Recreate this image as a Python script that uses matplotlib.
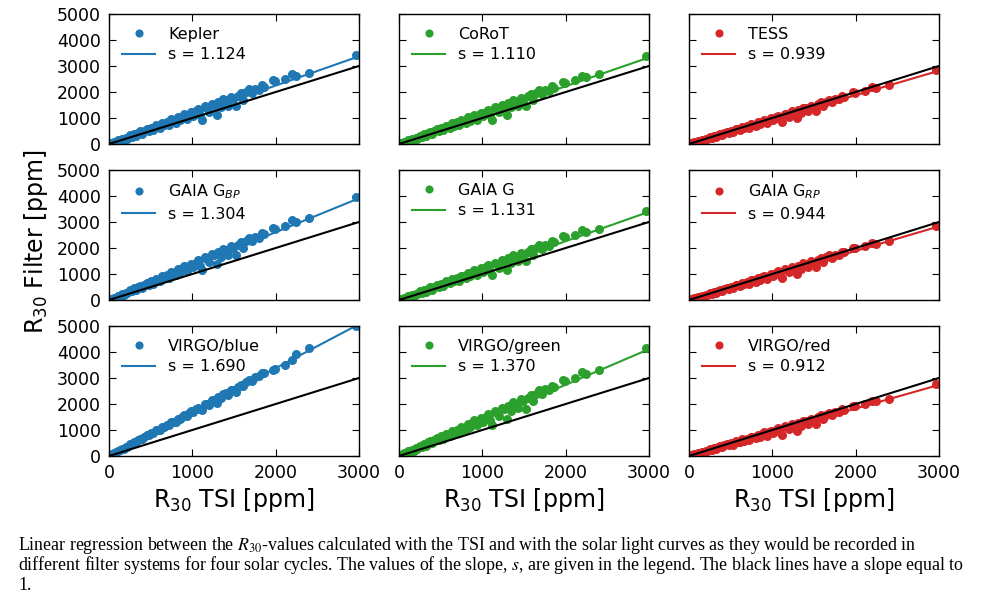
import matplotlib.pyplot as plt
import numpy as np

OUTPUT_PLOT_PATH = "out.png"

# R30 of the TSI (shared x values of all panels), ppm
TSI_R30 = [15, 40, 60, 85, 105, 130, 150, 175, 200, 220, 250, 270, 300, 325, 350,
           375, 400, 425, 450, 480, 505, 530, 560, 585, 610, 640, 665, 690, 720, 745,
           770, 800, 825, 850, 880, 905, 930, 960, 985, 1010, 1040, 1065, 1090, 1120,
           1150, 1175, 1200, 1230, 1260, 1290, 1310, 1340, 1370, 1400, 1430, 1460,
           1490, 1520, 1550, 1580, 1610, 1640, 1680, 1710, 1750, 1800, 1840, 1860,
           1970, 1990, 2110, 2200, 2240, 2400, 2960]

# R30 of the filter light curves, ppm
KEPLER = [27, 35, 87, 76, 148, 131, 209, 167, 250, 207, 331, 283, 397, 315, 433,
          492, 390, 508, 586, 500, 628, 526, 719, 678, 626, 819, 717, 846, 719, 947,
          905, 819, 1047, 905, 1049, 1157, 945, 1129, 1237, 1065, 1259, 1357, 1115, 919,
          1443, 1381, 1229, 1553, 1496, 1100, 1612, 1416, 1730, 1674, 1477, 1821,
          1735, 1448, 1862, 1976, 1710, 1993, 2108, 1952, 2127, 2083, 2258, 2211,
          2454, 2407, 2492, 2683, 2608, 2728, 3427]
COROT = [26, 35, 85, 76, 144, 131, 203, 167, 245, 208, 323, 282, 387, 316, 425,
         479, 390, 499, 572, 497, 615, 525, 703, 667, 623, 800, 711, 829, 718, 926,
         891, 816, 1024, 899, 1031, 1131, 942, 1111, 1210, 1058, 1235, 1326, 1111, 937,
         1412, 1358, 1224, 1518, 1471, 1117, 1580, 1406, 1692, 1644, 1470, 1783,
         1708, 1453, 1829, 1934, 1697, 1955, 2063, 1925, 2087, 2052, 2213, 2173,
         2403, 2362, 2450, 2631, 2567, 2691, 3376]
TESS = [20, 32, 68, 68, 117, 113, 165, 146, 203, 183, 265, 242, 318, 275, 353,
        394, 340, 417, 471, 427, 510, 456, 580, 561, 537, 661, 606, 690, 622, 766,
        747, 703, 847, 768, 862, 934, 813, 931, 1003, 906, 1031, 1096, 958, 848,
        1170, 1139, 1055, 1257, 1231, 1001, 1314, 1204, 1400, 1375, 1265, 1479,
        1435, 1271, 1527, 1604, 1452, 1630, 1710, 1624, 1739, 1726, 1842, 1819,
        1994, 1971, 2053, 2192, 2157, 2272, 2839]
GAIA_BP = [29, 43, 96, 93, 164, 156, 232, 201, 283, 251, 371, 334, 445, 379, 492,
           552, 468, 581, 659, 590, 713, 628, 811, 781, 741, 925, 840, 963, 858, 1070,
           1040, 971, 1184, 1063, 1202, 1306, 1123, 1297, 1401, 1254, 1437, 1533, 1322,
           1154, 1635, 1586, 1457, 1757, 1715, 1367, 1834, 1666, 1957, 1916, 1748,
           2066, 1997, 1748, 2129, 2240, 2009, 2274, 2389, 2257, 2426, 2401, 2570,
           2533, 2785, 2748, 2859, 3058, 3002, 3157, 3950]
GAIA_G = [26, 36, 86, 78, 146, 134, 206, 171, 249, 213, 328, 287, 393, 323, 432,
          487, 398, 508, 581, 507, 625, 536, 714, 680, 636, 814, 725, 843, 733, 942,
          907, 833, 1041, 916, 1049, 1150, 962, 1131, 1231, 1079, 1257, 1349, 1134, 961,
          1436, 1383, 1249, 1544, 1497, 1144, 1608, 1435, 1720, 1673, 1500, 1813,
          1739, 1485, 1861, 1967, 1731, 1990, 2098, 1961, 2123, 2090, 2252, 2212,
          2444, 2404, 2494, 2677, 2614, 2741, 3438]
GAIA_RP = [20, 32, 69, 68, 117, 114, 166, 147, 204, 184, 266, 243, 319, 277, 354,
           396, 342, 419, 473, 429, 513, 458, 583, 564, 540, 664, 610, 693, 626, 769,
           751, 707, 851, 772, 867, 938, 818, 936, 1008, 911, 1036, 1101, 963, 853,
           1176, 1145, 1061, 1263, 1237, 1008, 1321, 1211, 1407, 1382, 1272, 1486,
           1443, 1279, 1535, 1612, 1460, 1638, 1718, 1632, 1748, 1735, 1851, 1828,
           2004, 1981, 2064, 2203, 2169, 2284, 2854]
VIRGO_BLUE = [29, 64, 109, 136, 190, 214, 270, 284, 348, 356, 443, 448, 531, 529, 608,
              662, 652, 730, 793, 795, 878, 868, 982, 997, 1007, 1122, 1112, 1194, 1181,
              1303, 1317, 1320, 1442, 1417, 1511, 1586, 1532, 1642, 1717, 1679, 1794,
              1864, 1798, 1757, 2004, 2010, 1980, 2147, 2161, 2040, 2270, 2229, 2391,
              2406, 2365, 2539, 2542, 2465, 2668, 2750, 2681, 2832, 2927, 2902, 3022,
              3066, 3186, 3191, 3300, 3330, 3500, 3690, 3930, 4150, 4990]
VIRGO_GREEN = [31, 45, 102, 96, 174, 163, 246, 210, 299, 261, 393, 350, 471, 395, 520,
               584, 488, 612, 697, 618, 752, 656, 857, 822, 776, 977, 881, 1015, 896,
               1131, 1095, 1016, 1250, 1115, 1266, 1380, 1174, 1365, 1480, 1314, 1515,
               1619, 1383, 1194, 1726, 1670, 1524, 1855, 1806, 1417, 1935, 1746, 2067,
               2018, 1829, 2180, 2101, 1822, 2244, 2365, 2106, 2397, 2522, 2373, 2558,
               2526, 2711, 2668, 2939, 2896, 3011, 3224, 3159, 3318, 4155]
VIRGO_RED = [20, 30, 67, 66, 114, 110, 161, 142, 197, 177, 258, 234, 310, 266, 343,
             384, 329, 406, 458, 414, 497, 441, 565, 546, 520, 644, 588, 671, 603, 745,
             726, 682, 824, 745, 839, 909, 788, 906, 976, 879, 1002, 1067, 928, 817,
             1139, 1108, 1022, 1224, 1197, 967, 1279, 1168, 1363, 1337, 1226, 1440,
             1395, 1230, 1486, 1561, 1408, 1586, 1664, 1578, 1692, 1678, 1792, 1768,
             1941, 1917, 1996, 2132, 2097, 2207, 2760]

FILTER_NAMES = ["Kepler", "CoRoT", "TESS",
                "GAIA G$_{BP}$", "GAIA G", "GAIA G$_{RP}$",
                "VIRGO/blue", "VIRGO/green", "VIRGO/red"]
FILTER_VALUES = [KEPLER, COROT, TESS, GAIA_BP, GAIA_G, GAIA_RP,
                 VIRGO_BLUE, VIRGO_GREEN, VIRGO_RED]
SLOPES = [1.124, 1.110, 0.939, 1.304, 1.131, 0.944, 1.690, 1.370, 0.912]

COLUMN_COLORS = ["#1f77b4", "#2ca02c", "#d62728"]

CAPTION_LINES = [
    "Linear regression between the $R_{30}$-values calculated with the TSI and with "
    "the solar light curves as they would be recorded in",
    "different filter systems for four solar cycles. The values of the slope, $s$, "
    "are given in the legend. The black lines have a slope equal to",
    "1.",
]


def plot_panel(ax, name, values, slope, color):
    x = np.array(TSI_R30)
    ax.plot(x, values, "o", color=color, markersize=6.5, mew=0,
            label=name, clip_on=True)
    line_x = np.array([0, 3000])
    ax.plot(line_x, slope * line_x, color=color, linewidth=1.5,
            label=f"s = {slope:.3f}")
    ax.plot(line_x, line_x, color="black", linewidth=1.5)

    ax.set_xlim(0, 3000)
    ax.set_ylim(0, 5000)
    ax.set_xticks([0, 1000, 2000, 3000])
    ax.set_yticks([0, 1000, 2000, 3000, 4000, 5000])
    ax.tick_params(direction="in", top=True, right=True, length=5,
                   labelsize=12.5, pad=6)
    for spine in ax.spines.values():
        spine.set_linewidth(1.0)

    ax.legend(loc="upper left", frameon=False, fontsize=11.5,
              handlelength=2.1, handletextpad=0.8, labelspacing=0.35,
              borderaxespad=0.4, numpoints=1, markerscale=0.9)


def main():
    fig = plt.figure(figsize=(9.86, 6.0), dpi=100)

    lefts = [109 / 986, 399 / 986, 689 / 986]
    bottoms = [0.76, 0.50, 0.24]
    width = 250 / 986
    height = 130 / 600

    for i, (name, values, slope) in enumerate(zip(FILTER_NAMES, FILTER_VALUES, SLOPES)):
        row, col = divmod(i, 3)
        ax = fig.add_axes([lefts[col], bottoms[row], width, height])
        plot_panel(ax, name, values, slope, COLUMN_COLORS[col])

        if col != 0:
            ax.set_yticklabels([])
        if row != 2:
            ax.set_xticklabels([])
        else:
            ax.set_xlabel("R$_{30}$ TSI [ppm]", fontsize=17, labelpad=3)

    fig.text(0.037, 0.598, "R$_{30}$ Filter [ppm]", fontsize=17,
             rotation=90, ha="center", va="center")

    for k, line in enumerate(CAPTION_LINES):
        fig.text(18 / 986, 1 - (545 + 20 * k) / 600, line, fontsize=12.9,
                 family="Liberation Serif", math_fontfamily="stix",
                 ha="left", va="center")

    fig.savefig(OUTPUT_PLOT_PATH, dpi=100)


if __name__ == "__main__":
    main()
